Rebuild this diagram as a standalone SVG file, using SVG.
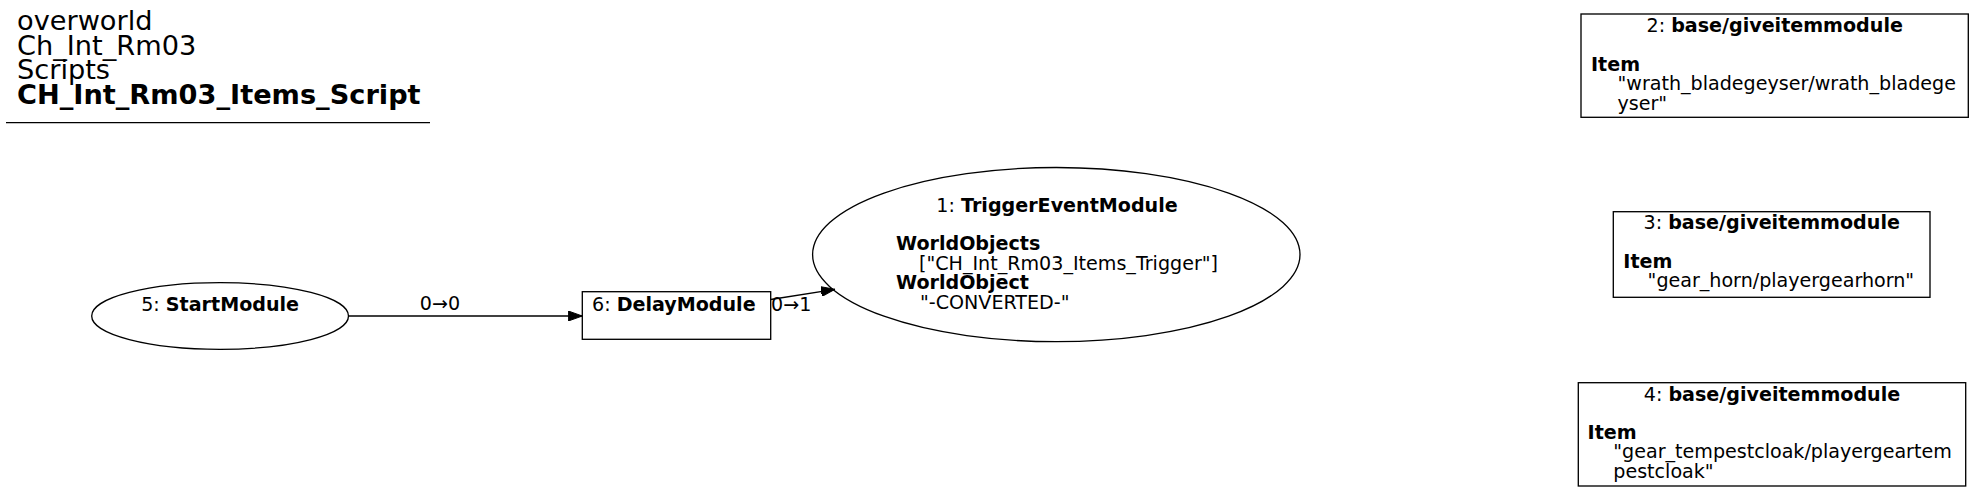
<svg xmlns="http://www.w3.org/2000/svg" width="1973" height="492" viewBox="0 0 1973 492">
<style>
text{font-family:"DejaVu Sans","Liberation Sans",sans-serif;fill:#000}
.t{font-size:27.2px}
.n{font-size:19.1px}
.b{font-weight:bold}
.shape{fill:none;stroke:#000;stroke-width:1.33}
.edge{fill:none;stroke:#000;stroke-width:1.33}
</style>
<defs>
<marker id="arr" viewBox="0 0 14 10" refX="14" refY="5" markerWidth="14" markerHeight="10" markerUnits="userSpaceOnUse" orient="auto">
<path d="M0,0 L14,5 L0,10 z" fill="#000" stroke="#000" stroke-width="1"/>
</marker>
</defs>
<rect width="1973" height="492" fill="#fff"/>
<g id="title">
<text class="t" x="17" y="30">overworld</text>
<text class="t" x="17" y="54.6">Ch_Int_Rm03</text>
<text class="t" x="17" y="79.2">Scripts</text>
<text class="t b" x="17" y="103.8">CH_Int_Rm03_Items_Script</text>
<line x1="6" y1="122.7" x2="430" y2="122.7" stroke="#000" stroke-width="1.33"/>
</g>
<g id="connectors">
<path class="edge" d="M348.5,316 L582.3,316" marker-end="url(#arr)"/>
<text class="n" x="440" y="309.5" text-anchor="middle">0→0</text>
<path class="edge" d="M770.7,299.5 L835,289.3" marker-end="url(#arr)"/>
<text class="n" x="771" y="310.7">0→1</text>
</g>
<g id="node5">
<ellipse class="shape" cx="220.1" cy="316" rx="128.4" ry="33.3"/>
<text class="n" x="220.1" y="310.7" text-anchor="middle">5: <tspan class="b">StartModule</tspan></text>
</g>
<g id="node6">
<rect class="shape" x="582.3" y="291.7" width="188.4" height="47.6"/>
<text class="n" x="592" y="310.7">6: <tspan class="b">DelayModule</tspan></text>
</g>
<g id="node1">
<ellipse class="shape" cx="1056.3" cy="254.6" rx="243.7" ry="87.1"/>
<text class="n" x="1057" y="212.3" text-anchor="middle">1: <tspan class="b">TriggerEventModule</tspan></text>
<text class="n b" x="896" y="250">WorldObjects</text>
<text class="n" x="919" y="269.5">["CH_Int_Rm03_Items_Trigger"]</text>
<text class="n b" x="896" y="289">WorldObject</text>
<text class="n" x="920" y="308.7">"-CONVERTED-"</text>
</g>
<g id="node2">
<rect class="shape" x="1581" y="14" width="387.3" height="103.3"/>
<text class="n" x="1774.7" y="31.7" text-anchor="middle">2: <tspan class="b">base/giveitemmodule</tspan></text>
<text class="n b" x="1591" y="70.7">Item</text>
<text class="n" x="1617.5" y="90.4">"wrath_bladegeyser/wrath_bladege</text>
<text class="n" x="1617.5" y="110">yser"</text>
</g>
<g id="node3">
<rect class="shape" x="1613.3" y="211.7" width="316.7" height="85.6"/>
<text class="n" x="1771.7" y="229.3" text-anchor="middle">3: <tspan class="b">base/giveitemmodule</tspan></text>
<text class="n b" x="1623.3" y="267.8">Item</text>
<text class="n" x="1647.6" y="287.3">"gear_horn/playergearhorn"</text>
</g>
<g id="node4">
<rect class="shape" x="1578.3" y="382.7" width="387.4" height="103.3"/>
<text class="n" x="1772" y="400.7" text-anchor="middle">4: <tspan class="b">base/giveitemmodule</tspan></text>
<text class="n b" x="1587.6" y="438.6">Item</text>
<text class="n" x="1613.3" y="458.3">"gear_tempestcloak/playergeartem</text>
<text class="n" x="1613.3" y="477.8">pestcloak"</text>
</g>
</svg>
